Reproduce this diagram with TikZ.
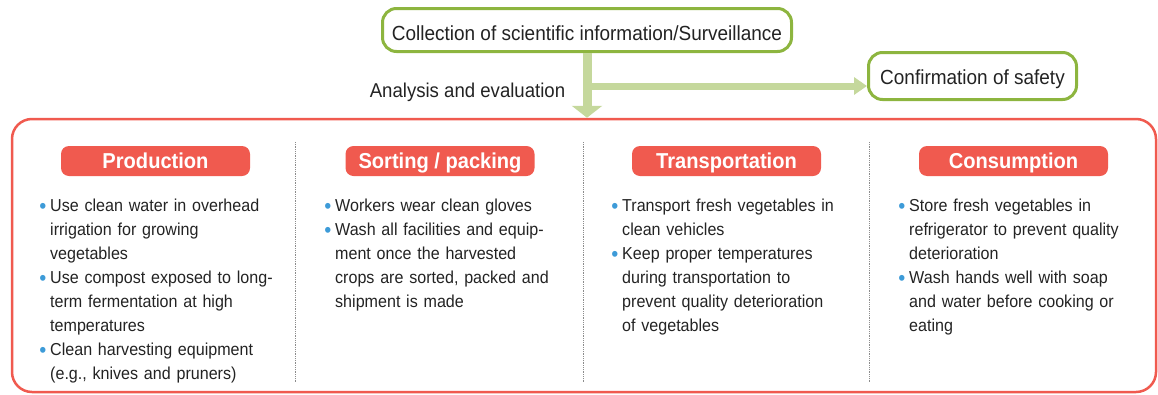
\documentclass[tikz,border=0pt]{standalone}
\usepackage{fontspec}
\usepackage{graphicx}
\setmainfont{Liberation Sans}[FakeStretch=0.93]
\usetikzlibrary{arrows.meta}

\definecolor{frame}{HTML}{8DB53F}
\definecolor{flow}{HTML}{C5D89C}
\definecolor{accent}{HTML}{F05A4F}
\definecolor{dotblue}{HTML}{3D9BD8}
\definecolor{ink}{HTML}{232323}

% bullet hanging in the left margin of a line
\newcommand{\itm}{\leavevmode\llap{\textcolor{dotblue}{\raisebox{-1.4pt}{\scalebox{1.25}{•}}}\kern3.8pt}}
\newcommand{\firstline}{\leavevmode\rule{0pt}{17pt}}

\begin{document}
\begin{tikzpicture}[x=1pt,y=-1pt,
  greenbox/.style={draw=frame, line width=3pt, rounded corners=14pt, fill=white,
    text=ink, inner sep=0pt, font=\fontsize{20.4}{24}\selectfont},
  head/.style={fill=accent, rounded corners=8pt, minimum width=189pt, minimum height=30pt,
    inner sep=0pt, text=white, text height=15.5pt, text depth=0pt,
    font=\fontsize{21.6}{24}\selectfont\bfseries},
  col/.style={anchor=north west, text width=250pt, align=left, inner sep=0pt,
    text=ink, font=\fontsize{17.3}{24}\selectfont},
  divider/.style={densely dotted, draw=black!45, line width=0.8pt},
  downflow/.style={draw=flow, line width=9pt, -{Triangle[width=30pt 0, length=12pt 0]}},
  sideflow/.style={draw=flow, line width=7pt, -{Triangle[width=17pt 0, length=13pt 0]}}
]
\useasboundingbox (0,0) rectangle (1158,394);

% outer panel holding the four stages
\node[draw=accent, line width=2.5pt, rounded corners=20pt, minimum width=1144pt,
      minimum height=273pt, inner sep=0pt] (panel) at (584,255.5) {};

% top boxes
\node[greenbox, minimum width=409pt, minimum height=43pt, text height=20.6pt, text depth=0pt]
  (src) at (587,30) {Collection of scientific information/Surveillance};
\node[greenbox, minimum width=208pt, minimum height=47pt, text height=16pt, text depth=0pt]
  (conf) at (972.5,76) {Confirmation of safety};

% flow arrows
\coordinate (fork) at (587,86);
\draw[sideflow] (fork) -- (fork -| conf.west);
\draw[downflow] (src.south) -- (src.south |- panel.north);
\node[anchor=base, text=ink, inner sep=0pt, font=\fontsize{20}{24}\selectfont]
  (eval) at (467.5,97) {Analysis and evaluation};

% column dividers
\draw[divider] (295,142) -- (295,383);
\draw[divider] (583,142) -- (583,383);
\draw[divider] (869,142) -- (869,383);

% stage headers
\node[head] (h1) at (155.5,161) {Production};
\node[head] (h2) at (440,161) {Sorting / packing};
\node[head] (h3) at (726.5,161) {Transportation};
\node[head] (h4) at (1013.5,161) {Consumption};

% stage measures
\node[col] (c1) at (50,194.5) {\firstline\itm Use clean water in overhead\\
  irrigation for growing\\ vegetables\\
  \itm Use compost exposed to long-\\ term fermentation at high\\ temperatures\\
  \itm Clean harvesting equipment\\ (e.g., knives and pruners)};
\node[col] (c2) at (335,194.5) {\firstline\itm Workers wear clean gloves\\
  \itm Wash all facilities and equip-\\ ment once the harvested\\
  crops are sorted, packed and\\ shipment is made};
\node[col] (c3) at (622,194.5) {\firstline\itm Transport fresh vegetables in\\
  clean vehicles\\
  \itm Keep proper temperatures\\ during transportation to\\
  prevent quality deterioration\\ of vegetables};
\node[col] (c4) at (909,194.5) {\firstline\itm Store fresh vegetables in\\
  refrigerator to prevent quality\\ deterioration\\
  \itm Wash hands well with soap\\ and water before cooking or\\ eating};
\end{tikzpicture}
\end{document}
